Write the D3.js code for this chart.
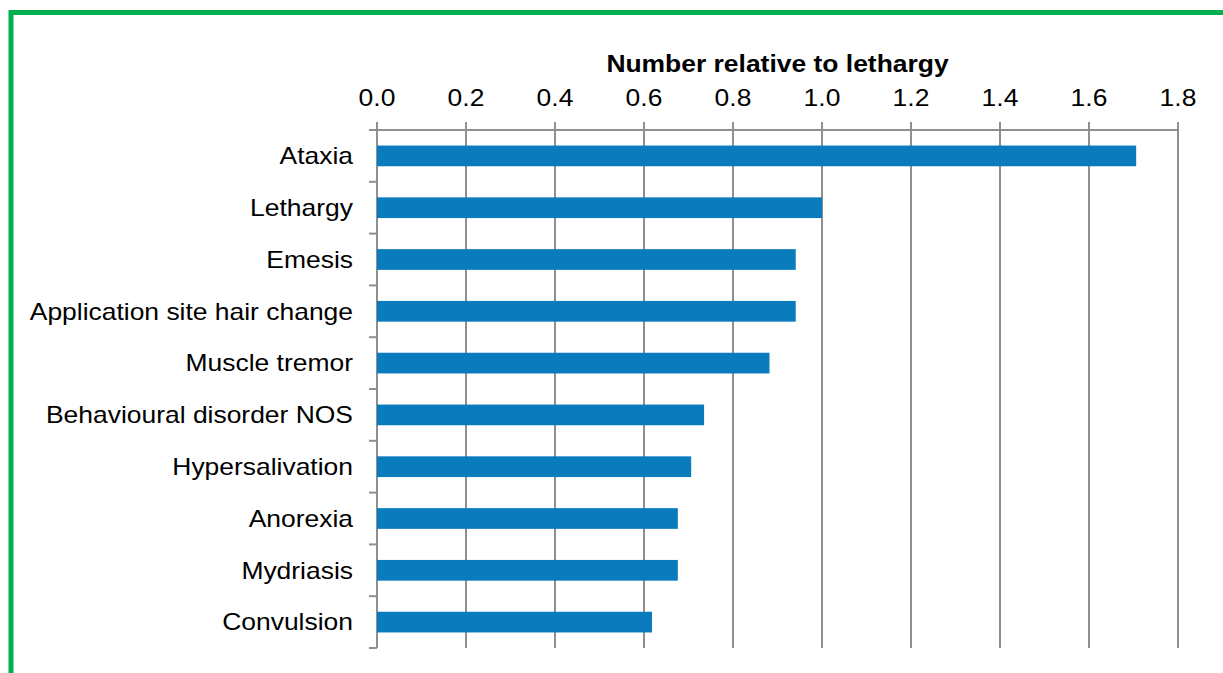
<!DOCTYPE html>
<html>
<head>
<meta charset="utf-8">
<script src="https://cdn.jsdelivr.net/npm/d3@7"></script>
<style>
  body { margin: 0; background: #ffffff; }
  text { font-family: "Liberation Sans", Arial, sans-serif; fill: #000; }
</style>
</head>
<body>
<div id="viz-container"></div>
<script>
let w = 1223;
let h = 673;
// the original picture is stretched sideways, so draw narrower and let the viewBox widen it
let sx = 1.15;

const categories = ["Ataxia", "Lethargy", "Emesis", "Application site hair change", "Muscle tremor",
                    "Behavioural disorder NOS", "Hypersalivation", "Anorexia", "Mydriasis", "Convulsion"];
const values = [1.706, 1.0, 0.941, 0.941, 0.882, 0.735, 0.706, 0.676, 0.676, 0.618];
const tickValues = [0, 0.2, 0.4, 0.6, 0.8, 1.0, 1.2, 1.4, 1.6, 1.8];
const axisTitle = "Number relative to lethargy";

let viz = d3.select("#viz-container")
              .append("svg")
              .attr("width", w)
              .attr("height", h)
              .attr("viewBox", `0 0 ${w / sx} ${h}`)
              .attr("preserveAspectRatio", "none")
              .style("display", "block");

// green frame, runs off the right and bottom edges
viz.append("rect")
    .attr("x", 11 / sx)
    .attr("y", 12.5)
    .attr("width", 1400 / sx)
    .attr("height", 800)
    .attr("fill", "none")
    .attr("stroke", "#00b050")
    .attr("stroke-width", 5)
    .attr("vector-effect", "non-scaling-stroke");

let x = d3.scaleLinear().domain([0, 1.8]).range([377 / sx, 1178 / sx]);
let y = d3.scaleBand().domain(categories).range([130, 648]).paddingInner(0.6).paddingOuter(0.3);

let gridColor = "#8f8f8f";

// vertical gridlines with the little ticks above the axis
viz.selectAll(".grid").data(tickValues).enter().append("line")
    .attr("class", "grid")
    .attr("x1", d => x(d))
    .attr("x2", d => x(d))
    .attr("y1", 122)
    .attr("y2", 648)
    .attr("stroke", gridColor)
    .attr("stroke-width", 2)
    .attr("vector-effect", "non-scaling-stroke");

// top axis line
viz.append("line")
    .attr("x1", x(0) - 8 / sx)
    .attr("x2", x(1.8))
    .attr("y1", 130)
    .attr("y2", 130)
    .attr("stroke", gridColor)
    .attr("stroke-width", 2)
    .attr("vector-effect", "non-scaling-stroke");

// category boundary ticks on the left axis
let step = y.step();
let bounds = d3.range(categories.length + 1).map(i => 130 + i * step);
viz.selectAll(".ytick").data(bounds).enter().append("line")
    .attr("class", "ytick")
    .attr("x1", x(0) - 8 / sx)
    .attr("x2", x(0))
    .attr("y1", d => d)
    .attr("y2", d => d)
    .attr("stroke", gridColor)
    .attr("stroke-width", 2)
    .attr("vector-effect", "non-scaling-stroke");

// bars
viz.selectAll(".bar").data(values).enter().append("rect")
    .attr("class", "bar")
    .attr("x", x(0))
    .attr("y", (d, i) => y(categories[i]))
    .attr("width", d => x(d) - x(0))
    .attr("height", y.bandwidth())
    .attr("fill", "#0a7bbd");

// tick labels
viz.selectAll(".xlabel").data(tickValues).enter().append("text")
    .attr("class", "xlabel")
    .text(d => d3.format(".1f")(d))
    .attr("x", d => x(d))
    .attr("y", 106.5)
    .attr("text-anchor", "middle")
    .attr("font-size", 23);

// category labels
viz.selectAll(".ylabel").data(categories).enter().append("text")
    .attr("class", "ylabel")
    .text(d => d)
    .attr("x", 353 / sx)
    .attr("y", d => y(d) + y.bandwidth() / 2)
    .attr("dy", "0.36em")
    .attr("text-anchor", "end")
    .attr("font-size", 23);

// axis title
viz.append("text")
    .text(axisTitle)
    .attr("x", (x(0) + x(1.8)) / 2)
    .attr("y", 72.5)
    .attr("text-anchor", "middle")
    .attr("font-size", 23)
    .attr("font-weight", 700);
</script>
</body>
</html>
